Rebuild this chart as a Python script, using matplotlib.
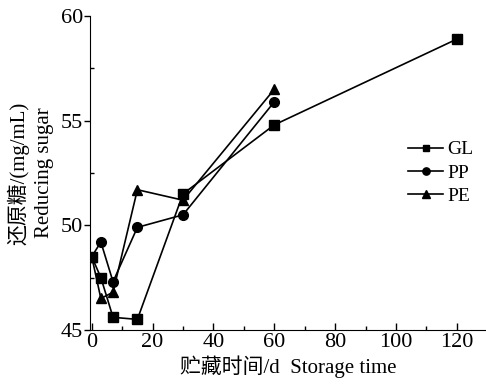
import matplotlib.pyplot as plt
from matplotlib.ticker import MultipleLocator

plt.rcParams['font.family'] = ['Liberation Serif', 'Noto Sans CJK SC']

days = [0, 3, 7, 15, 30, 60, 120]
gl = [48.5, 47.5, 45.6, 45.5, 51.5, 54.8, 58.9]
pp = [48.5, 49.2, 47.3, 49.9, 50.5, 55.9]
pe = [48.5, 46.5, 46.8, 51.7, 51.2, 56.5]

fig = plt.figure(figsize=(4.86, 3.84), dpi=100)
ax = fig.add_axes([0.185, 0.141, 0.815, 0.817])

ax.plot(days, gl, '-s', color='black', lw=1.2, ms=6.5, label='GL')
ax.plot(days[:6], pp, '-o', color='black', lw=1.2, ms=7, label='PP')
ax.plot(days[:6], pe, '-^', color='black', lw=1.2, ms=7.5, label='PE')

ax.set_xlim(-0.6, 129.6)
ax.set_ylim(45, 60)
ax.xaxis.set_major_locator(MultipleLocator(20))
ax.xaxis.set_minor_locator(MultipleLocator(10))
ax.yaxis.set_major_locator(MultipleLocator(5))
ax.yaxis.set_minor_locator(MultipleLocator(2.5))
ax.tick_params(which='both', direction='in', labelsize=16, width=1)
ax.tick_params(which='major', length=5)
ax.tick_params(which='minor', length=3)
ax.tick_params(axis='y', which='major', direction='out', length=4, pad=1)
ax.tick_params(axis='y', which='minor', direction='in', length=3)
ax.tick_params(axis='x', pad=2)
ax.spines['top'].set_visible(False)
ax.spines['right'].set_visible(False)

ax.set_xlabel('贮藏时间/d  Storage time', fontsize=15, labelpad=3)
ax.set_ylabel('还原糖/(mg/mL)\nReducing sugar', fontsize=15, labelpad=5,
              linespacing=1.4)

ax.legend(loc='center left', bbox_to_anchor=(0.76, 0.5), frameon=False,
          fontsize=14, handlelength=1.8, handletextpad=0.2, labelspacing=0.3,
          markerscale=0.75)

fig.savefig('out.png', dpi=100)
